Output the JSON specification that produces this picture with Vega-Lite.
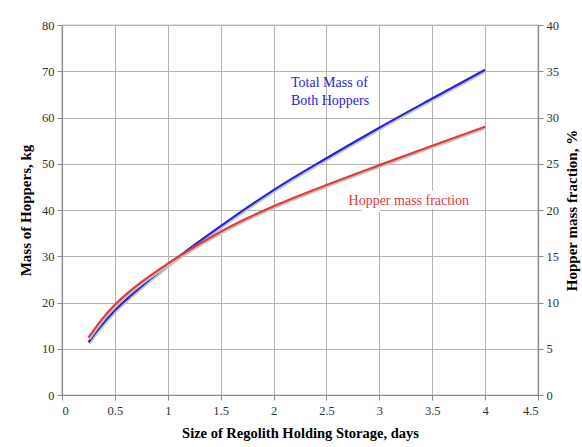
{
  "$schema": "https://vega.github.io/schema/vega-lite/v6.json",
  "width": 476,
  "height": 370,
  "autosize": "none",
  "padding": {"left": 62, "top": 25, "right": 44, "bottom": 52},
  "background": "white",
  "config": {
    "font": "Liberation Serif",
    "view": {"stroke": "#8c8c8c", "strokeWidth": 1.2},
    "axis": {
      "labelFont": "Liberation Serif",
      "labelFontSize": 12.5,
      "labelColor": "#333333",
      "titleFont": "Liberation Serif",
      "titleFontSize": 15,
      "titleFontWeight": "bold",
      "titleColor": "#000000",
      "domainColor": "#8c8c8c",
      "domainWidth": 1.2,
      "tickColor": "#8c8c8c",
      "tickSize": 5,
      "gridColor": "#b4b4b4",
      "gridWidth": 1
    }
  },
  "datasets": {
    "hoppers": [
      {"days": 0.25, "mass_kg": 11.4, "fraction_pct": 6.2},
      {"days": 0.375, "mass_kg": 15.1, "fraction_pct": 8.15},
      {"days": 0.5, "mass_kg": 18.3, "fraction_pct": 9.75},
      {"days": 0.75, "mass_kg": 23.5, "fraction_pct": 12.2},
      {"days": 1.0, "mass_kg": 28.1, "fraction_pct": 14.2},
      {"days": 1.25, "mass_kg": 32.4, "fraction_pct": 16.0},
      {"days": 1.5, "mass_kg": 36.5, "fraction_pct": 17.65},
      {"days": 1.75, "mass_kg": 40.5, "fraction_pct": 19.1},
      {"days": 2.0, "mass_kg": 44.3, "fraction_pct": 20.4},
      {"days": 2.5, "mass_kg": 51.2, "fraction_pct": 22.7},
      {"days": 3.0, "mass_kg": 57.8, "fraction_pct": 24.85},
      {"days": 3.5, "mass_kg": 64.1, "fraction_pct": 26.95},
      {"days": 4.0, "mass_kg": 70.3, "fraction_pct": 29.0}
    ],
    "mass_note": [
      {"days": 2.165, "mass_kg": 67.5, "label": "Total Mass of"},
      {"days": 2.165, "mass_kg": 63.6, "label": "Both Hoppers"}
    ],
    "fraction_note": [
      {"days": 2.69, "mass_kg": 41.9, "label": "Hopper mass fraction"}
    ]
  },
  "encoding": {
    "x": {
      "field": "days",
      "type": "quantitative",
      "scale": {"domain": [0, 4.5], "nice": false},
      "axis": {
        "values": [0, 0.5, 1, 1.5, 2, 2.5, 3, 3.5, 4, 4.5],
        "format": "~g",
        "grid": true,
        "labelPadding": 4,
        "titlePadding": 10,
        "titleFontSize": 14.5,
        "title": "Size of Regolith Holding Storage, days"
      }
    }
  },
  "layer": [
    {
      "encoding": {
        "y": {
          "field": "mass_kg",
          "type": "quantitative",
          "scale": {"domain": [0, 80], "nice": false},
          "axis": {
            "orient": "left",
            "values": [0, 10, 20, 30, 40, 50, 60, 70, 80],
            "grid": true,
            "labelPadding": 3,
            "titlePadding": 8,
            "title": "Mass of Hoppers, kg"
          }
        }
      },
      "layer": [
        {
          "data": {"name": "hoppers"},
          "mark": {"type": "line", "interpolate": "monotone", "color": "#c4c4c4", "strokeWidth": 2.2, "xOffset": 1, "yOffset": 1.5}
        },
        {
          "data": {"name": "hoppers"},
          "mark": {"type": "line", "interpolate": "monotone", "color": "#2424d8", "strokeWidth": 2.2}
        },
        {
          "data": {"name": "mass_note"},
          "mark": {"type": "text", "align": "left", "baseline": "middle", "fontSize": 14, "color": "#2424d8"},
          "encoding": {"text": {"field": "label"}}
        },
        {
          "data": {"name": "fraction_note"},
          "mark": {"type": "text", "align": "left", "baseline": "middle", "fontSize": 14, "stroke": "white", "strokeWidth": 8, "fill": "white", "dx": 2},
          "encoding": {"text": {"field": "label"}}
        },
        {
          "data": {"name": "fraction_note"},
          "mark": {"type": "text", "align": "left", "baseline": "middle", "fontSize": 14, "color": "#e03c3c", "dx": 2},
          "encoding": {"text": {"field": "label"}}
        }
      ]
    },
    {
      "data": {"name": "hoppers"},
      "encoding": {
        "y": {
          "field": "fraction_pct",
          "type": "quantitative",
          "scale": {"domain": [0, 40], "nice": false},
          "axis": {
            "orient": "right",
            "values": [0, 5, 10, 15, 20, 25, 30, 35, 40],
            "grid": false,
            "labelPadding": 3,
            "titlePadding": 6,
            "titleAngle": 270,
            "titleBaseline": "top",
            "title": "Hopper mass fraction, %"
          }
        }
      },
      "layer": [
        {
          "mark": {"type": "line", "interpolate": "monotone", "color": "#c4c4c4", "strokeWidth": 2.2, "xOffset": 1, "yOffset": 1.5}
        },
        {
          "mark": {"type": "line", "interpolate": "monotone", "color": "#e03c3c", "strokeWidth": 2.2}
        }
      ]
    }
  ],
  "resolve": {"scale": {"y": "independent"}}
}
